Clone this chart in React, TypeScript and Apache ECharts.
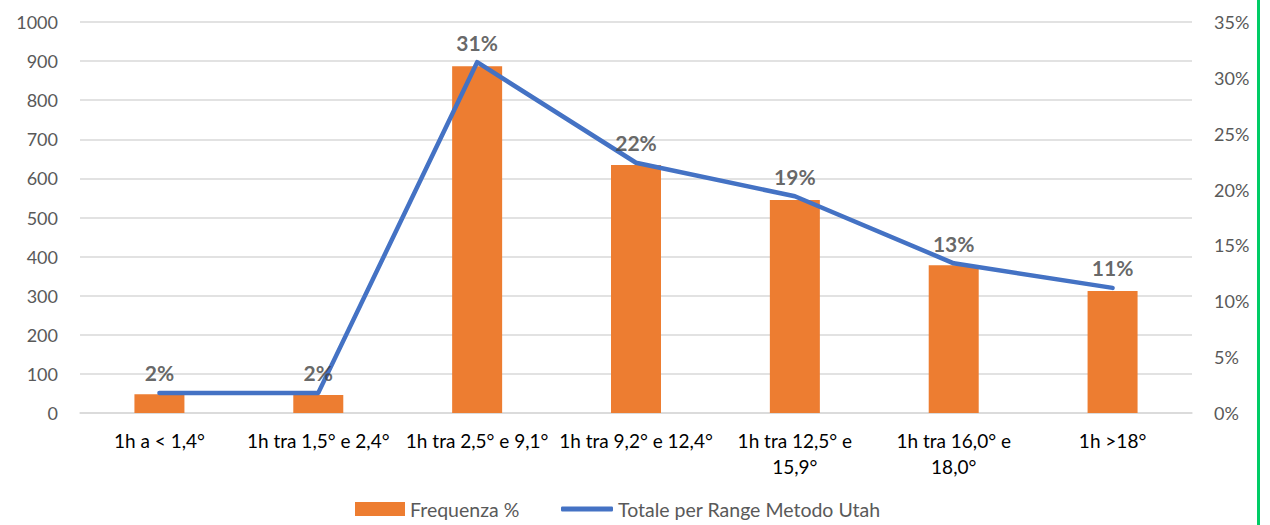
import React, { useEffect, useRef } from "react";
import * as echarts from "echarts";

const categories = [
  "1h a < 1,4°",
  "1h tra 1,5° e 2,4°",
  "1h tra 2,5° e 9,1°",
  "1h tra 9,2° e 12,4°",
  "1h tra 12,5° e\n15,9°",
  "1h tra 16,0° e\n18,0°",
  "1h >18°",
];
const frequenza = [48, 46, 887, 634, 545, 378, 312];
const totaleUtah = [0.018, 0.018, 0.314, 0.224, 0.194, 0.134, 0.112];
const leftTicks = { min: 0, max: 1000, interval: 100 };
const rightTicks = { min: 0, max: 0.35, interval: 0.05 };

const FONT = "Lato, 'Open Sans', sans-serif";

export default function App() {
  const ref = useRef<HTMLDivElement>(null);
  useEffect(() => {
    if (!ref.current) return;
    const chart = echarts.init(ref.current, undefined, { renderer: "svg" });
    const legendText = { color: "#595959", fontSize: 19.5, fontFamily: FONT, lineHeight: 22 };
    chart.setOption({
      animation: false,
      backgroundColor: "#ffffff",
      textStyle: { fontFamily: FONT },
      grid: { left: 80, right: 78, top: 22, bottom: 112, containLabel: false },
      legend: [
        {
          left: 350,
          top: 493,
          padding: 5,
          itemWidth: 50,
          itemHeight: 14,
          itemGap: 6,
          textStyle: legendText,
          data: [{ name: "Frequenza %", icon: "rect" }],
        },
        {
          left: 556,
          top: 493,
          padding: 5,
          itemWidth: 52,
          itemHeight: 5,
          itemGap: 6,
          textStyle: legendText,
          data: [{ name: "Totale per Range Metodo Utah", icon: "roundRect" }],
        },
      ],
      graphic: [
        {
          type: "rect",
          shape: { x: 1257, y: 0, width: 3, height: 525 },
          style: { fill: "#00cc66" },
          silent: true,
        },
      ],
      xAxis: {
        type: "category",
        data: categories,
        axisTick: { show: false },
        axisLine: { lineStyle: { color: "#d9d9d9", width: 1.5 } },
        axisLabel: {
          color: "#000000",
          fontSize: 19,
          fontFamily: FONT,
          margin: 14,
          lineHeight: 26,
          interval: 0,
        },
      },
      yAxis: [
        {
          type: "value",
          min: leftTicks.min,
          max: leftTicks.max,
          interval: leftTicks.interval,
          axisLine: { show: false },
          axisTick: { show: false },
          splitLine: { lineStyle: { color: "#d9d9d9", width: 1.5 } },
          axisLabel: {
            color: "#595959",
            fontSize: 18,
            fontFamily: FONT,
            margin: 22,
            formatter: (v: number) => String(v),
          },
        },
        {
          type: "value",
          min: rightTicks.min,
          max: rightTicks.max,
          interval: rightTicks.interval,
          axisLine: { show: false },
          axisTick: { show: false },
          splitLine: { show: false },
          axisLabel: {
            color: "#595959",
            fontSize: 18,
            fontFamily: FONT,
            margin: 22,
            formatter: (v: number) => Math.round(v * 100) + "%",
          },
        },
      ],
      series: [
        {
          name: "Frequenza %",
          type: "bar",
          data: frequenza,
          barWidth: 50,
          itemStyle: { color: "#ed7d31" },
          yAxisIndex: 0,
          z: 2,
        },
        {
          name: "Totale per Range Metodo Utah",
          type: "line",
          data: totaleUtah,
          yAxisIndex: 1,
          symbol: "none",
          lineStyle: { color: "#4472c4", width: 4.5, cap: "round", join: "round" },
          itemStyle: { color: "#4472c4" },
          z: 3,
        },
        {
          name: "labels",
          type: "scatter",
          data: totaleUtah,
          yAxisIndex: 1,
          symbolSize: 1,
          itemStyle: { color: "rgba(0,0,0,0)" },
          silent: true,
          z: 4,
          label: {
            show: true,
            position: "top",
            distance: 9,
            color: "#404040",
            fontWeight: "bold",
            fontSize: 21,
            fontFamily: FONT,
            formatter: (p: any) => Math.round(p.value * 100) + "%",
          },
        },
      ],
    });
    return () => chart.dispose();
  }, []);
  return (
    <div
      ref={ref}
      style={{ position: "fixed", left: 0, top: 0, width: 1270, height: 525 }}
    />
  );
}
